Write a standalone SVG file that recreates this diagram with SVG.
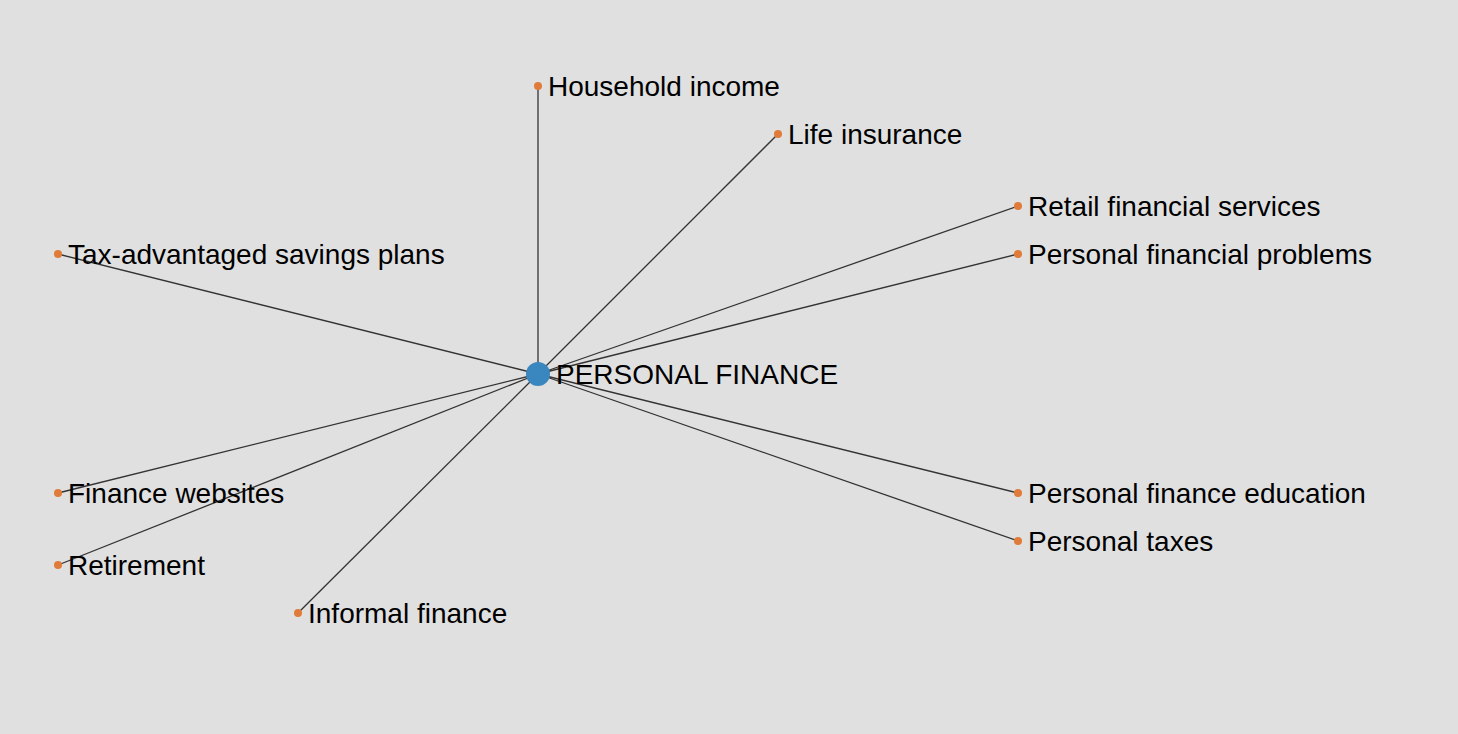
<svg xmlns="http://www.w3.org/2000/svg" width="1458" height="734" viewBox="0 0 1458 734">
<style>
.bg{fill:#e0e0e0}
.link{stroke:#333;stroke-width:1.3;fill:none}
.leaf{fill:#e07b39}
.root{fill:#3a87bf}
text{font-family:"Liberation Sans",Arial,sans-serif;font-size:28px;fill:#000;dominant-baseline:central}
</style>
<rect class="bg" x="0" y="0" width="1458" height="734"/>
<g id="connectors">
<line class="link" x1="538" y1="374" x2="538" y2="86"/>
<line class="link" x1="538" y1="374" x2="778" y2="134"/>
<line class="link" x1="538" y1="374" x2="1018" y2="206"/>
<line class="link" x1="538" y1="374" x2="1018" y2="254"/>
<line class="link" x1="538" y1="374" x2="58" y2="254"/>
<line class="link" x1="538" y1="374" x2="58" y2="493"/>
<line class="link" x1="538" y1="374" x2="58" y2="565"/>
<line class="link" x1="538" y1="374" x2="298" y2="613"/>
<line class="link" x1="538" y1="374" x2="1018" y2="493"/>
<line class="link" x1="538" y1="374" x2="1018" y2="541"/>
</g>
<g id="n-household"><circle class="leaf" cx="538" cy="86" r="4"/><text x="548" y="86">Household income</text></g>
<g id="n-life"><circle class="leaf" cx="778" cy="134" r="4"/><text x="788" y="134">Life insurance</text></g>
<g id="n-retail"><circle class="leaf" cx="1018" cy="206" r="4"/><text x="1028" y="206">Retail financial services</text></g>
<g id="n-problems"><circle class="leaf" cx="1018" cy="254" r="4"/><text x="1028" y="254">Personal financial problems</text></g>
<g id="n-tax"><circle class="leaf" cx="58" cy="254" r="4"/><text x="68" y="254">Tax-advantaged savings plans</text></g>
<g id="n-websites"><circle class="leaf" cx="58" cy="493" r="4"/><text x="68" y="493">Finance websites</text></g>
<g id="n-retirement"><circle class="leaf" cx="58" cy="565" r="4"/><text x="68" y="565">Retirement</text></g>
<g id="n-informal"><circle class="leaf" cx="298" cy="613" r="4"/><text x="308" y="613">Informal finance</text></g>
<g id="n-education"><circle class="leaf" cx="1018" cy="493" r="4"/><text x="1028" y="493">Personal finance education</text></g>
<g id="n-taxes"><circle class="leaf" cx="1018" cy="541" r="4"/><text x="1028" y="541">Personal taxes</text></g>
<g id="n-root"><circle class="root" cx="538" cy="374" r="12"/><text x="556" y="374">PERSONAL FINANCE</text></g>
</svg>
